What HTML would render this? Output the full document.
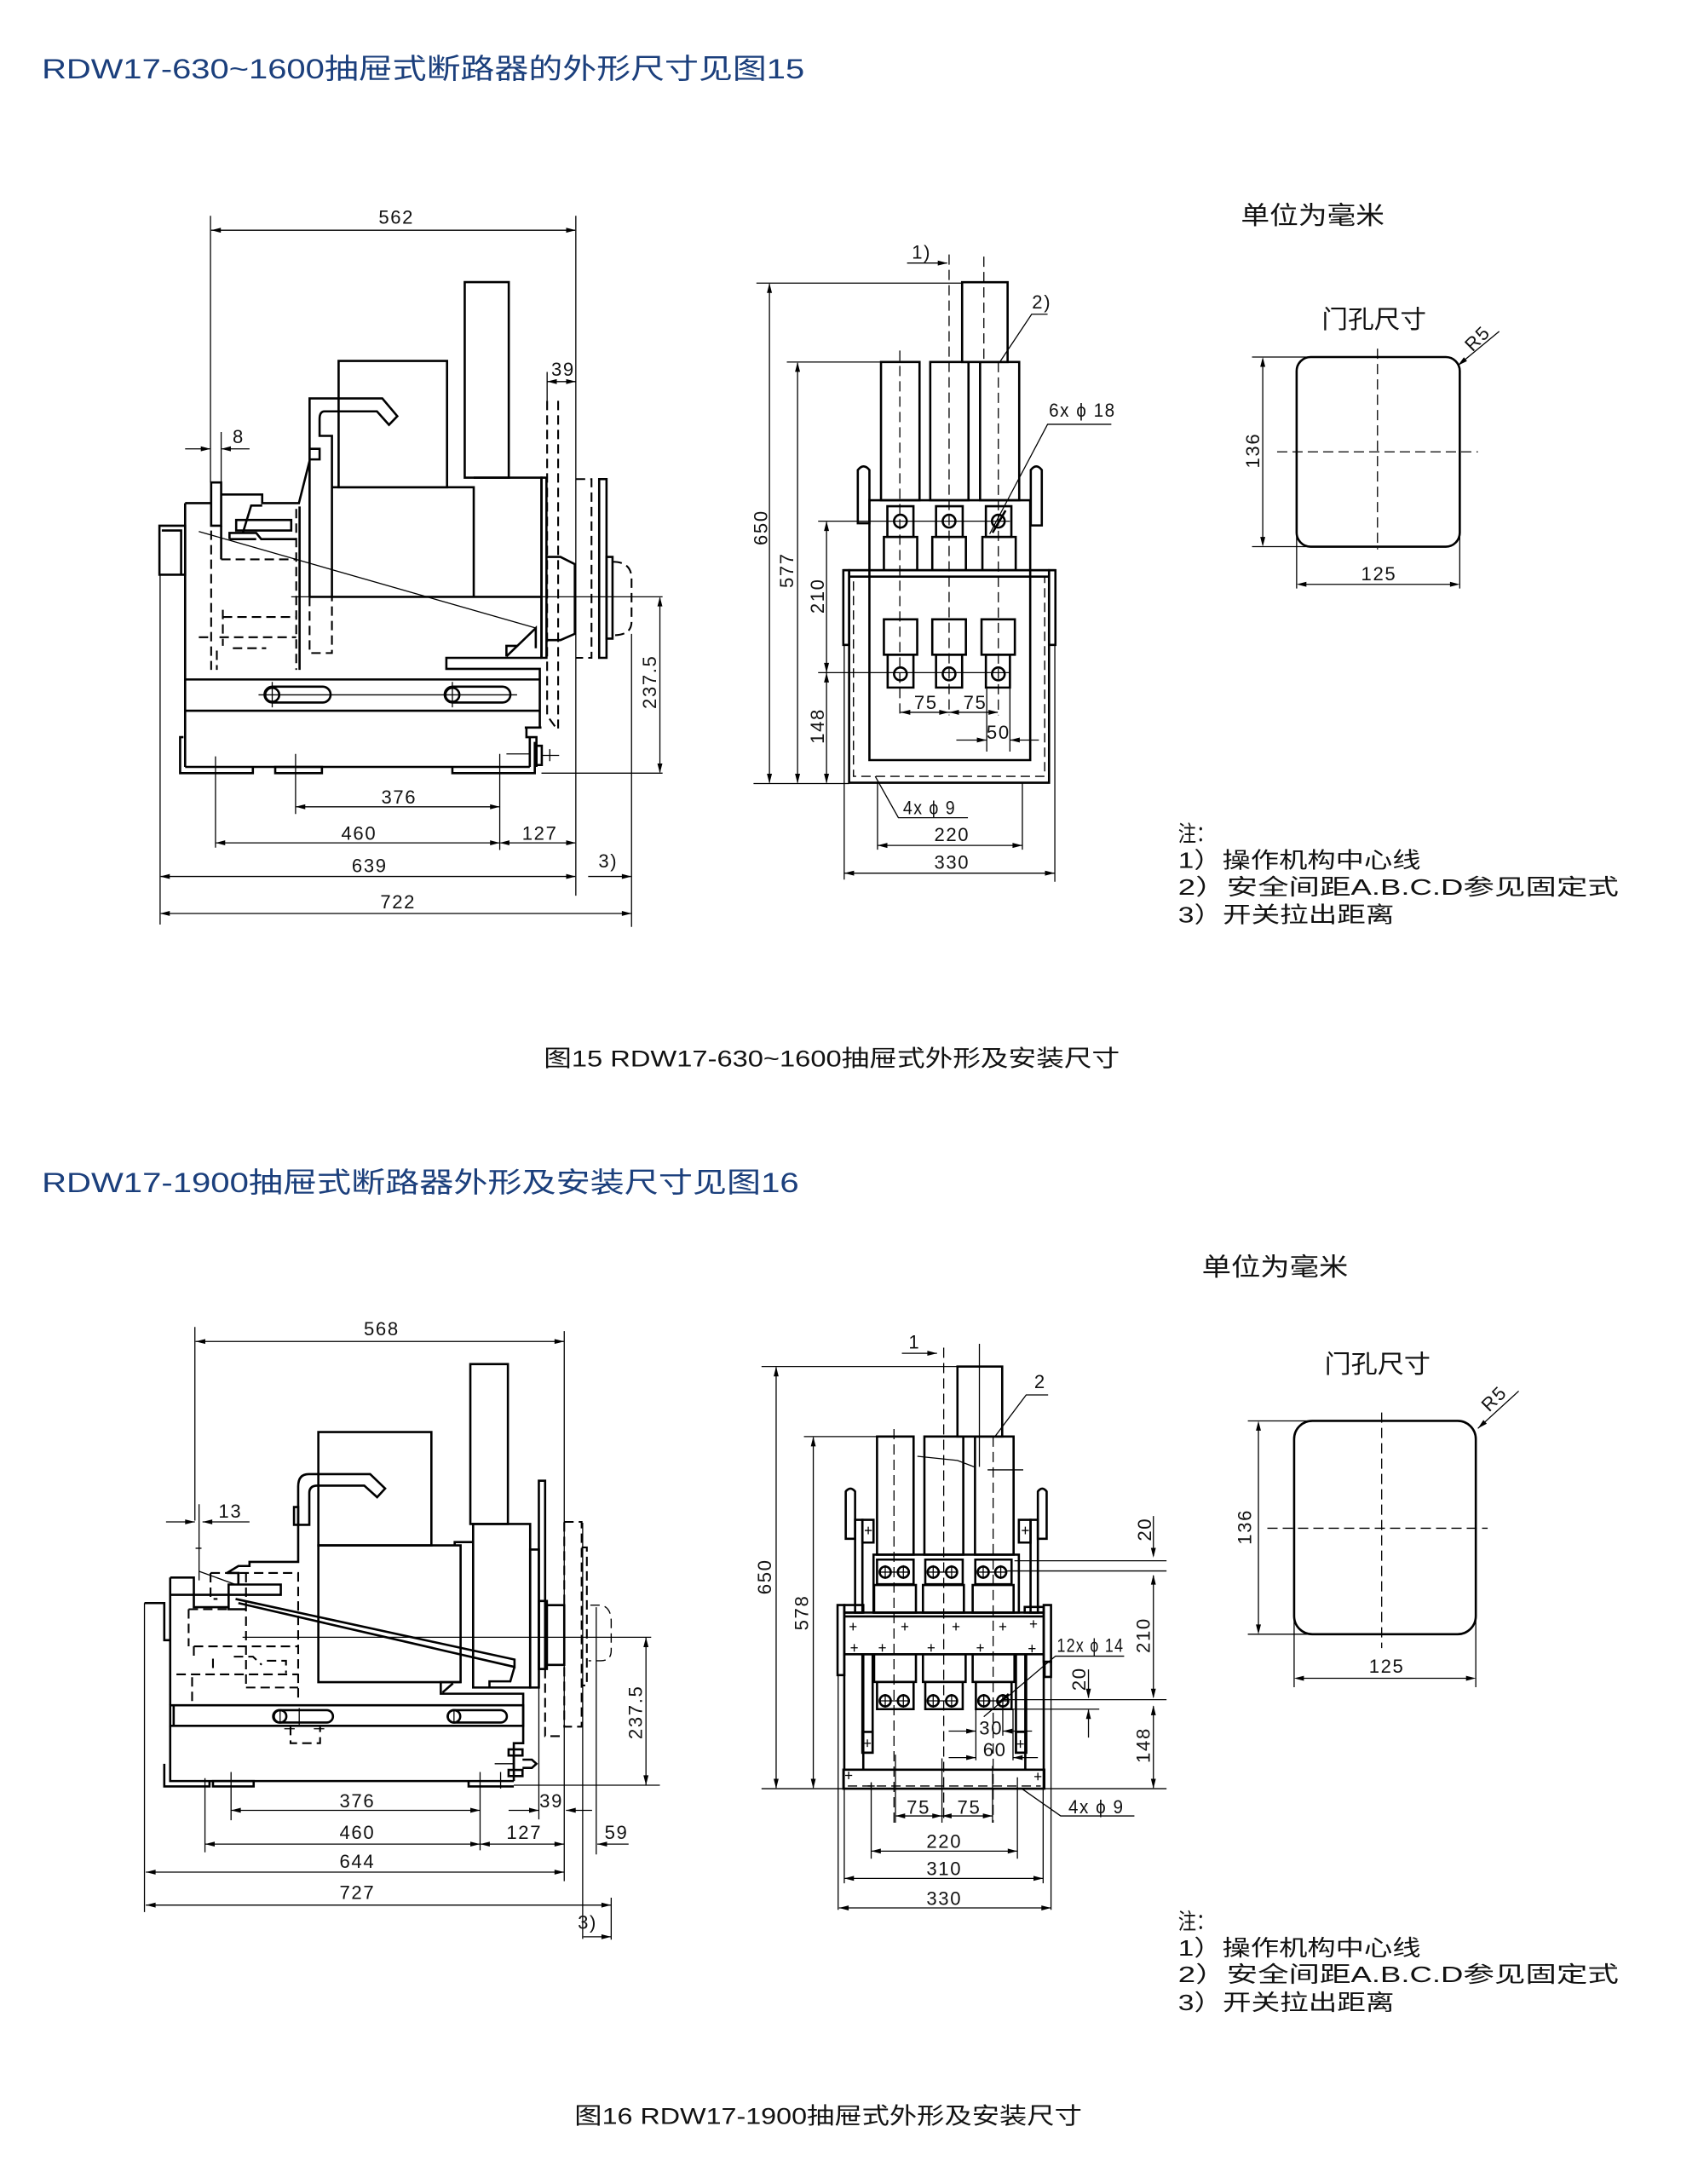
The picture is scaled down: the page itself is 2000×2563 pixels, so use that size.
<!DOCTYPE html>
<html><head><meta charset="utf-8">
<style>
html,body{margin:0;padding:0;background:#fff;}
svg{display:block}
svg *{vector-effect:non-scaling-stroke}
.k{stroke-width:2.6}
.t{stroke-width:1.3}
.ds{stroke-width:2.1;stroke-dasharray:11 6}
.dt{stroke-width:1.3;stroke-dasharray:12 6}
.a{fill:#000;stroke:none}
.n{font-family:"Liberation Sans","Noto Sans CJK SC",sans-serif;font-size:13.5px;letter-spacing:1px;fill:#111;text-anchor:middle;dominant-baseline:central}
.c{font-family:"Liberation Sans","Noto Sans CJK SC",sans-serif;fill:#111;dominant-baseline:central}
.ti{font-family:"Liberation Sans","Noto Sans CJK SC",sans-serif;fill:#1b3f7c;dominant-baseline:central}
</style></head><body>
<svg width="2000" height="2563" viewBox="0 0 1219 1562" xmlns="http://www.w3.org/2000/svg">
<rect x="0" y="0" width="1219" height="1562" fill="#fff"/>

<!-- Captions (measured) -->
<text class="c" x="389" y="757" font-size="16.5" textLength="412" lengthAdjust="spacingAndGlyphs">图15 RDW17-630~1600抽屉式外形及安装尺寸</text>
<text class="c" x="411" y="1513.3" font-size="16.5" textLength="363" lengthAdjust="spacingAndGlyphs">图16 RDW17-1900抽屉式外形及安装尺寸</text>

<g transform="scale(0.9974 0.9973)">
<!-- Titles -->
<text class="ti" x="30" y="49" font-size="20" textLength="547" lengthAdjust="spacingAndGlyphs">RDW17-630~1600抽屉式断路器的外形尺寸见图15</text>
<text class="ti" x="30" y="848" font-size="20" textLength="543" lengthAdjust="spacingAndGlyphs">RDW17-1900抽屉式断路器外形及安装尺寸见图16</text>

<!-- Units / door hole labels -->
<text class="c" x="890" y="155" font-size="18" textLength="103" lengthAdjust="spacingAndGlyphs">单位为毫米</text>
<text class="c" x="948" y="229.5" font-size="18" textLength="75" lengthAdjust="spacingAndGlyphs">门孔尺寸</text>
<text class="c" x="862" y="909" font-size="18" textLength="105" lengthAdjust="spacingAndGlyphs">单位为毫米</text>
<text class="c" x="950" y="978.7" font-size="18" textLength="76" lengthAdjust="spacingAndGlyphs">门孔尺寸</text>

<!-- Notes -->
<text class="c" x="845" y="598" font-size="16" textLength="26" lengthAdjust="spacingAndGlyphs">注：</text>
<text class="c" x="845" y="617" font-size="16" textLength="174" lengthAdjust="spacingAndGlyphs">1）操作机构中心线</text>
<text class="c" x="845" y="636" font-size="16" textLength="316" lengthAdjust="spacingAndGlyphs">2）安全间距A.B.C.D参见固定式</text>
<text class="c" x="845" y="656" font-size="16" textLength="155" lengthAdjust="spacingAndGlyphs">3）开关拉出距离</text>
<text class="c" x="845" y="1378" font-size="16" textLength="26" lengthAdjust="spacingAndGlyphs">注：</text>
<text class="c" x="845" y="1397" font-size="16" textLength="174" lengthAdjust="spacingAndGlyphs">1）操作机构中心线</text>
<text class="c" x="845" y="1416" font-size="16" textLength="316" lengthAdjust="spacingAndGlyphs">2）安全间距A.B.C.D参见固定式</text>
<text class="c" x="845" y="1436" font-size="16" textLength="155" lengthAdjust="spacingAndGlyphs">3）开关拉出距离</text>

<!-- Door holes -->
<g fill="none" stroke="#000">
<rect class="k" x="930" y="256" width="117" height="136" rx="10" ry="10"/>
<path class="dt" d="M988,250 V394 M916,324 H1060"/>
<path class="t" d="M898,256 H942 M898,392 H942 M905.7,258 V390 M930,382 V422 M1047,382 V422 M932,419 H1045 M1045.7,262 L1075.3,237.6"/>
<rect class="k" x="928.2" y="1019" width="130.3" height="153" rx="13" ry="13"/>
<path class="dt" d="M991,1013 V1182 M909,1096 H1067"/>
<path class="t" d="M895,1019 H943 M895,1172 H943 M902.6,1021 V1170 M928.2,1160 V1210 M1058.5,1160 V1210 M930,1203.6 H1056 M1060,1024.4 L1089.3,997.6"/>
</g>
<path class="a" d="M905.7,256 l-1.8,7 h3.6z M905.7,392 l-1.8,-7 h3.6z M930,419 l7,-1.8 v3.6z M1047,419 l-7,-1.8 v3.6z M1045.7,262 L1052.2,258.9 L1049.96,256.16z
M902.6,1019 l-1.8,7 h3.6z M902.6,1172 l-1.8,-7 h3.6z M928.2,1203.6 l7,-1.8 v3.6z M1058.5,1203.6 l-7,-1.8 v3.6z M1060,1024.4 L1066.4,1021 L1063.95,1018.35z"/>
<text class="n" transform="translate(898.7 323) rotate(-90)">136</text>
<text class="n" x="989" y="411.5">125</text>
<text class="n" font-size="12" transform="translate(1059.7 242.6) rotate(-45)">R5</text>
<text class="n" transform="translate(892.8 1095) rotate(-90)">136</text>
<text class="n" x="994.6" y="1195">125</text>
<text class="n" font-size="12" transform="translate(1071.6 1003) rotate(-45)">R5</text>

<!-- ============ FIG 15 LEFT (side view) ============ -->
<g transform="translate(100 139.2) scale(0.2393 0.3446)" fill="none" stroke="#000">
<g class="k">
<rect x="975" y="183" width="132" height="407"/>
<rect x="597" y="347" width="325" height="263"/>
<path d="M510,838 V425 H728 L773,462 L748,480 L712,452 H555 Q540,452 540,468 V503 H577 V838"/>
<path d="M510,530 H540 V552 H510"/>
<path d="M577,610 H1002 V838"/>
<path d="M1002,590 H1205 V965"/>
<rect x="1205" y="590" width="15" height="375"/>
<path d="M510,838 H1205"/>
<path d="M1205,965 H920 V988 H1200 V1110"/>
<path d="M1100,962 V940 H1135 M1100,962 L1188,903 V945"/>
<path d="M137,1010 H1200 M137,1075 H1200"/>
<rect x="375" y="1025" width="198" height="33" rx="24" ry="16.5"/>
<rect x="915" y="1025" width="197" height="33" rx="24" ry="16.5"/>
<ellipse cx="398" cy="1042" rx="21" ry="14.5"/>
<ellipse cx="938" cy="1042" rx="21" ry="14.5"/>
<path d="M137,643 V1192 M137,643 H215 M245,625 H368 V643 H478 L510,555"/>
<path d="M480,650 V990"/>
<rect x="215" y="600" width="30" height="90"/>
<rect x="290" y="678" width="165" height="22"/>
<path d="M270,718 V705 H350 L365,718 H470 M270,718 H350 M310,705 L335,648 H368"/>
<path d="M245,690 V760"/>
<rect x="60" y="690" width="77" height="102"/>
<path d="M67,700 H125 V792"/>
<path d="M132,1130 H122 V1205 H340 V1192"/>
<path d="M137,1192 H1170"/>
<rect x="407" y="1192" width="140" height="13"/>
<path d="M938,1192 V1205 H1185 V1140"/>
<path d="M1155,1110 H1205 M1160,1110 V1130 H1190 V1192 M1170,1130 V1192"/>
<rect x="1190" y="1148" width="16" height="40"/>
<path d="M1222,755 H1262 L1305,770 V915 L1262,928 H1222"/>
<rect x="1378" y="593" width="22" height="372"/>
<rect x="1400" y="755" width="18" height="170"/>
</g>
<g class="ds">
<path d="M510,838 V955 H577 V838"/>
<path d="M215,700 V990 M470,655 V990 M245,760 H470 M250,880 H470 M178,922 H215 M240,922 H470 M250,865 V940 M232,950 V990 M280,945 H380"/>
<path d="M1222,430 V1085 L1250,1112 M1255,430 V1112"/>
<path d="M1308,593 H1355 V965 H1308"/>
<path d="M1418,765 Q1475,765 1475,800 V890 Q1475,918 1420,918"/>
</g>
<g class="t">
<path d="M178,702 L1188,903"/>
<path d="M455,838 H1568 M1205,1205 H1568"/>
<path d="M357,1042 H1132 M398,1015 V1068 M938,1015 V1068"/>
<path d="M213,45 V600 M1308,45 V1460 M245,495 V600 M1222,370 V430 M468,1165 V1290 M1080,1165 V1365 M228,1170 V1360 M62,792 V1520 M1475,915 V1525"/>
<path d="M215,75 H1306 M137,530 H211 M247,530 H330 M1222,390 H1308 M1560,840 V1203 M470,1275 H1078 M230,1350 H1078 M1082,1350 H1306 M64,1420 H1306 M1345,1420 H1473 M64,1497 H1473"/>
<path d="M1206,1168 H1258 M1230,1155 V1180 M1100,1165 H1170"/>
</g>
<path class="a" d="M215,75 l29,-5.2 v10.4z M1308,75 l-29,-5.2 v10.4z M213,530 l-29,-5.2 v10.4z M245,530 l29,-5.2 v10.4z M1222,390 l29,-5.2 v10.4z M1308,390 l-29,-5.2 v10.4z M1560,838 l-7.5,20 h15z M1560,1205 l-7.5,-20 h15z M468,1275 l29,-5.2 v10.4z M1080,1275 l-29,-5.2 v10.4z M228,1350 l29,-5.2 v10.4z M1080,1350 l-29,-5.2 v10.4z M1080,1350 l29,-5.2 v10.4z M1308,1350 l-29,-5.2 v10.4z M62,1420 l29,-5.2 v10.4z M1308,1420 l-29,-5.2 v10.4z M1475,1420 l-29,-5.2 v10.4z M62,1497 l29,-5.2 v10.4z M1475,1497 l-29,-5.2 v10.4z"/>
</g>
<text class="n" x="284.3" y="155.7">562</text>
<text class="n" x="171.1" y="313.2">8</text>
<text class="n" x="403.9" y="265">39</text>
<text class="n" transform="translate(466.1 489) rotate(-90)">237.5</text>
<text class="n" x="286.2" y="571.7">376</text>
<text class="n" x="257.5" y="597.5">460</text>
<text class="n" x="387.2" y="597.5">127</text>
<text class="n" x="265.1" y="621">639</text>
<text class="n" x="436.2" y="617.5">3)</text>
<text class="n" x="285.5" y="646.8">722</text>

<!-- ============ FIG 15 MIDDLE (front view) ============ -->
<g transform="translate(536.3 164.1) scale(0.2078 0.306)" fill="none" stroke="#000">
<g class="k">
<rect x="740" y="125" width="157" height="187"/>
<rect x="460" y="312" width="133" height="324"/>
<rect x="630" y="312" width="132" height="324"/>
<rect x="802" y="312" width="135" height="324"/>
<rect x="420" y="636" width="555" height="609"/>
<rect x="350" y="800" width="690" height="498"/>
<path d="M330,800 H1062 M350,815 H1040"/>
<rect x="330" y="800" width="20" height="175"/>
<rect x="1040" y="800" width="22" height="175"/>
<rect x="482" y="650" width="90" height="72"/><rect x="470" y="722" width="115" height="78"/>
<rect x="650" y="650" width="92" height="72"/><rect x="637" y="722" width="116" height="78"/>
<rect x="822" y="650" width="88" height="72"/><rect x="810" y="722" width="115" height="78"/>
<ellipse cx="527" cy="685" rx="22" ry="15"/><ellipse cx="695" cy="685" rx="22" ry="15"/><ellipse cx="865" cy="685" rx="22" ry="15"/>
<rect x="470" y="915" width="115" height="83"/><rect x="483" y="998" width="89" height="77"/>
<rect x="637" y="915" width="116" height="83"/><rect x="650" y="998" width="90" height="77"/>
<rect x="807" y="915" width="115" height="83"/><rect x="822" y="998" width="83" height="77"/>
<ellipse cx="527" cy="1043" rx="22" ry="15"/><ellipse cx="695" cy="1043" rx="22" ry="15"/><ellipse cx="865" cy="1043" rx="22" ry="15"/>
<path d="M380,690 V565 Q400,548 420,565 V690 Z"/>
<path d="M977,695 V565 Q996,548 1015,565 V695 Z"/>
<path d="M845,712 L890,660"/>
</g>
<rect class="ds" x="365" y="815" width="660" height="468" style="stroke-width:1.4"/>
<path class="dt" d="M695,60 V1140 M815,65 V312 M525,285 V1140 M865,312 V1140"/>
<g class="t">
<path d="M75,129 V1298 M30,127 H740 M20,1300 H350"/>
<path d="M172,314 V1298 M135,312 H460"/>
<path d="M272,687 V1298 M243,685 H905 M243,1040 H905"/>
<path d="M550,80 H688"/>
<path d="M1035,200 H980 L870,312"/>
<path d="M1255,458 H1035 L835,715"/>
<path d="M527,1133 H863"/>
<path d="M825,1075 V1225 M905,1075 V1225 M720,1198 H825 M1005,1198 H905"/>
<path d="M760,1380 H520 L440,1283"/>
<path d="M448,1445 H948 M448,1300 V1455 M948,1300 V1455"/>
<path d="M333,1510 H1060 M333,975 V1525 M1060,975 V1530"/>
</g>
<path class="a" d="M75,127 l-8.7,23 h17.4z M75,1300 l-8.7,-23 h17.4z M172,312 l-8.7,23 h17.4z M172,1300 l-8.7,-23 h17.4z M272,685 l-8.7,23 h17.4z M272,1040 l-8.7,-23 h17.4z M272,1040 l-8.7,23 h17.4z M272,1300 l-8.7,-23 h17.4z M690,80 l-34,-5.9 v11.8z M527,1133 l34,-5.9 v11.8z M695,1133 l-34,-5.9 v11.8z M695,1133 l34,-5.9 v11.8z M865,1133 l-34,-5.9 v11.8z M825,1198 l-34,-5.9 v11.8z M905,1198 l34,-5.9 v11.8z M448,1445 l34,-5.9 v11.8z M948,1445 l-34,-5.9 v11.8z M333,1510 l34,-5.9 v11.8z M1060,1510 l-34,-5.9 v11.8z"/>
</g>
<text class="n" x="661" y="180.9">1)</text>
<text class="n" x="747.2" y="216.7">2)</text>
<text class="n" x="776.3" y="294.2" textLength="48" lengthAdjust="spacingAndGlyphs">6x ϕ 18</text>
<text class="n" transform="translate(545.7 378.3) rotate(-90)">650</text>
<text class="n" transform="translate(564.4 408.9) rotate(-90)">577</text>
<text class="n" transform="translate(586.2 427.3) rotate(-90)">210</text>
<text class="n" transform="translate(586.2 520.6) rotate(-90)">148</text>
<text class="n" x="664.1" y="503.8">75</text>
<text class="n" x="699.4" y="503.8">75</text>
<text class="n" x="716.1" y="525.2">50</text>
<text class="n" x="666.7" y="579.4" textLength="38" lengthAdjust="spacingAndGlyphs">4x ϕ 9</text>
<text class="n" x="682.8" y="598.6">220</text>
<text class="n" x="682.8" y="618.5">330</text>
</g>

<!-- ============ FIG 16 LEFT (side view) ============ -->
<g transform="translate(91.4 927) scale(0.2488 0.2947)" fill="none" stroke="#000">
<g class="k">
<rect x="985" y="165" width="108" height="388"/>
<rect x="548" y="330" width="325" height="275"/>
<path d="M490,555 V462 Q490,432 520,432 H697 L740,467 L717,488 L680,460 H545 Q522,460 522,478 V555 Z"/>
<rect x="478" y="512" width="12" height="43"/>
<rect x="548" y="605" width="409" height="332"/>
<path d="M940,605 V597 H993"/>
<path d="M993,553 H1157 V950 H993 Z"/>
<path d="M1040,950 V935 H1100 L1112,900"/>
<rect x="1157" y="615" width="25" height="335"/>
<rect x="1182" y="448" width="18" height="457"/>
<rect x="1182" y="740" width="23" height="165"/>
<rect x="1205" y="750" width="50" height="145"/>
<path d="M957,937 H900 V965 H1137 V1085 H1110 V1177"/>
<path d="M905,962 L935,940"/>
<rect x="122" y="993" width="1015" height="50"/>
<path d="M132,993 V1043"/>
<rect x="418" y="1005" width="172" height="30" rx="18" ry="15"/>
<rect x="920" y="1005" width="170" height="30" rx="18" ry="15"/>
<ellipse cx="438" cy="1020" rx="18" ry="15"/>
<ellipse cx="938" cy="1020" rx="18" ry="15"/>
<path d="M122,683 V993 M122,1043 V1177 H1110"/>
<path d="M105,1135 V1190 H235 V1177"/>
<rect x="245" y="1177" width="117" height="13"/>
<path d="M980,1177 V1190 H1110"/>
<path d="M122,683 H190 V755 H290 M122,725 H290"/>
<rect x="290" y="700" width="150" height="25"/>
<path d="M290,725 V760 H340"/>
<path d="M285,672 L318,655 H350 V645 H490 V555 M285,672 H318 V700"/>
<path d="M48,745 H105 V835 H122"/>
<rect x="1095" y="1100" width="40" height="15"/>
<rect x="1095" y="1150" width="40" height="15"/>
<path d="M1110,1115 V1150 M1135,1125 H1162 L1175,1135 L1162,1145 H1135"/>
<path d="M310,735 L1112,882 V900 L318,745"/>
</g>
<g class="ds">
<path d="M1200,905 V1068 H1250"/>
<path d="M1255,548 H1305 V1045 H1255 Z"/>
<path d="M1305,610 H1320 V945 H1305"/>
<path d="M1330,750 H1360 Q1390,755 1390,790 V860 Q1390,885 1360,885 H1325" style="stroke-width:1.4"/>
<path d="M238,672 H490 V985 M238,672 V735 H258 M340,672 V950 M175,760 V850 M175,760 H290 M190,850 H490 M140,918 H490 M340,950 H490"/>
<path d="M190,850 V880 M245,880 V915 M305,875 H360 L385,895 M400,885 H455 V915"/>
<path d="M468,1043 V1085 H553 V1043 M185,925 V990"/>
</g>
<g class="t">
<path d="M330,828 H1505 M1110,1187 H1530"/>
<path d="M438,1005 V1035 M938,1005 V1035 M493,1000 V1040"/>
<path d="M205,668 L310,700"/>
<path d="M195,110 H1255 M193,75 V545 M1255,85 V1420"/>
<path d="M110,548 H193 M215,548 H350 M205,505 V690 M195,612 H212"/>
<path d="M1490,828 V1187"/>
<path d="M297,1248 H1013 M297,1155 V1272 M1013,1155 V1345"/>
<path d="M1095,1248 H1182 M1260,1248 H1335 M1182,950 V1270"/>
<path d="M222,1330 H1013 M222,1170 V1350 M1013,1330 H1255"/>
<path d="M1350,1330 H1440 M1347,755 V1355"/>
<path d="M52,1398 H1255 M52,1478 H1390 M48,745 V1495"/>
<path d="M1310,1555 H1390 M1308,550 V1560 M1390,1460 V1562"/>
<path d="M1055,1135 H1110 M1072,1155 V1195 M450,1050 H480 M535,1050 H565"/>
</g>
<path class="a" d="M195,110 l28,-6 v12z M1255,110 l-28,-6 v12z M193,548 l-28,-6 v12z M215,548 l28,-6 v12z M1490,828 l-7.3,24 h14.6z M1490,1187 l-7.3,-24 h14.6z M297,1248 l28,-6 v12z M1013,1248 l-28,-6 v12z M1182,1248 l-28,-6 v12z M1260,1248 l28,-6 v12z M222,1330 l28,-6 v12z M1013,1330 l-28,-6 v12z M1013,1330 l28,-6 v12z M1255,1330 l-28,-6 v12z M1350,1330 l28,-6 v12z M52,1398 l28,-6 v12z M1255,1398 l-28,-6 v12z M52,1478 l28,-6 v12z M1390,1478 l-28,-6 v12z M1390,1555 l-28,-6 v12z"/>
</g>
<text class="n" x="273" y="950.6">568</text>
<text class="n" x="164.8" y="1080.8">13</text>
<text class="n" transform="translate(454.6 1224.6) rotate(-90)">237.5</text>
<text class="n" x="255.6" y="1288">376</text>
<text class="n" x="394.4" y="1288">39</text>
<text class="n" x="255.6" y="1310.7">460</text>
<text class="n" x="375" y="1310.7">127</text>
<text class="n" x="441" y="1310.7">59</text>
<text class="n" x="255.6" y="1331.3">644</text>
<text class="n" x="255.6" y="1353.7">727</text>
<text class="n" x="420.3" y="1374.9">3)</text>

<!-- ============ FIG 16 MIDDLE (front view) ============ -->
<g transform="translate(524.9 940.8) scale(0.2092 0.2708)" fill="none" stroke="#000">
<g class="k">
<rect x="765" y="135" width="153" height="185"/>
<rect x="490" y="320" width="125" height="312"/>
<rect x="652" y="320" width="133" height="312"/>
<rect x="825" y="320" width="132" height="312"/>
<rect x="478" y="632" width="497" height="153"/>
<rect x="490" y="645" width="125" height="65"/>
<rect x="655" y="645" width="128" height="65"/>
<rect x="826" y="645" width="124" height="65"/>
<rect x="480" y="712" width="143" height="73"/>
<rect x="647" y="712" width="140" height="73"/>
<rect x="817" y="712" width="140" height="73"/>
<ellipse cx="518" cy="678" rx="19" ry="14.7"/><ellipse cx="580" cy="678" rx="19" ry="14.7"/>
<ellipse cx="682" cy="678" rx="19" ry="14.7"/><ellipse cx="745" cy="678" rx="19" ry="14.7"/>
<ellipse cx="853" cy="678" rx="19" ry="14.7"/><ellipse cx="913" cy="678" rx="19" ry="14.7"/>
<path d="M383,590 V465 Q399,450 415,465 V590 Z"/>
<path d="M1040,590 V465 Q1055,450 1070,465 V590 Z"/>
<rect x="415" y="540" width="25" height="245"/>
<rect x="1015" y="540" width="25" height="245"/>
<rect x="440" y="540" width="38" height="60"/>
<rect x="975" y="540" width="40" height="60"/>
<rect x="378" y="785" width="682" height="110"/>
<path d="M378,795 H1060"/>
<rect x="355" y="765" width="23" height="185"/>
<rect x="378" y="765" width="65" height="20"/>
<rect x="995" y="770" width="65" height="15"/>
<rect x="1060" y="765" width="25" height="150"/>
<rect x="1063" y="915" width="22" height="40"/>
<rect x="480" y="895" width="143" height="73"/>
<rect x="647" y="895" width="146" height="73"/>
<rect x="817" y="895" width="143" height="73"/>
<rect x="490" y="968" width="125" height="72"/>
<rect x="655" y="968" width="128" height="72"/>
<rect x="828" y="968" width="122" height="72"/>
<ellipse cx="518" cy="1018" rx="19" ry="14.7"/><ellipse cx="580" cy="1018" rx="19" ry="14.7"/>
<ellipse cx="682" cy="1018" rx="19" ry="14.7"/><ellipse cx="745" cy="1018" rx="19" ry="14.7"/>
<ellipse cx="855" cy="1018" rx="19" ry="14.7"/><ellipse cx="920" cy="1018" rx="19" ry="14.7"/>
<path d="M378,895 V1200 M1060,895 V1200 M443,895 V1200 M997,895 V1200"/>
<rect x="440" y="895" width="35" height="260"/>
<rect x="440" y="1100" width="35" height="55"/>
<rect x="965" y="895" width="35" height="260"/>
<rect x="965" y="1100" width="35" height="55"/>
<rect x="375" y="1200" width="687" height="50"/>
<path d="M905,1025 L940,1000"/>
</g>
<path class="ds" style="stroke-width:1.4" d="M390,1243 H1050"/>
<path class="dt" d="M718,85 V1340 M548,300 V1340 M887,320 V1340"/>
<g class="t">
<path d="M500,678 H600 M665,678 H765 M838,678 H930 M500,1018 H600 M665,1018 H765 M838,1018 H940"/>
<path d="M518,660 v36 M580,660 v36 M682,660 v36 M745,660 v36 M853,660 v36 M913,660 v36 M518,1000 v36 M580,1000 v36 M682,1000 v36 M745,1000 v36 M855,1000 v36 M920,1000 v36"/>
<path d="M448,568 h24 M460,558 v20 M985,568 h24 M997,558 v20 M396,822 h24 M408,812 v20 M573,822 h24 M585,812 v20 M748,822 h24 M760,812 v20 M908,822 h24 M920,812 v20 M1013,815 h24 M1025,805 v20 M400,878 h24 M412,868 v20 M496,878 h24 M508,868 v20 M663,878 h24 M675,868 v20 M831,878 h24 M843,868 v20 M1008,880 h24 M1020,870 v20 M445,1130 h24 M457,1120 v20 M968,1132 h24 M980,1122 v20 M381,1215 h24 M393,1205 v20 M1028,1218 h24 M1040,1208 v20 M458,1243 h24 M470,1233 v20"/>
<path d="M840,75 V400"/>
<path d="M145,137 V1248 M95,135 H765 M95,1250 H1480"/>
<path d="M272,322 V1248 M240,320 H490"/>
<path d="M575,100 H695"/>
<path d="M1075,210 H1000 L895,318"/>
<path d="M628,372 L765,383 L822,400 M868,408 H990"/>
<path d="M1435,530 V635 M960,648 H1480 M930,675 H1480"/>
<path d="M1435,687 V1008 M925,1015 H1480 M1435,1032 V1248"/>
<path d="M1335,900 H1100 L855,1060"/>
<path d="M1213,935 V1010 M1213,1115 V1042 M935,1040 H1250"/>
<path d="M735,1098 H828 M1020,1098 H920 M828,1030 V1175 M920,1030 V1110"/>
<path d="M735,1168 H828 M1040,1168 H955 M955,1040 V1175"/>
<path d="M553,1322 H885 M553,1160 V1340 M712,1170 V1340 M885,1190 V1340"/>
<path d="M1370,1322 H1118 L985,1250"/>
<path d="M470,1415 H970 M470,1235 V1435 M970,1220 V1435"/>
<path d="M378,1487 H1058 M378,1200 V1500 M1058,1200 V1500"/>
<path d="M360,1565 H1085 M357,950 V1570 M1085,955 V1570"/>
</g>
<path class="a" d="M145,135 l-8.5,26 h17z M145,1250 l-8.5,-26 h17z M272,320 l-8.5,26 h17z M272,1250 l-8.5,-26 h17z M695,100 l-33,-6.6 v13.2z M1435,640 l-8.5,-26 h17z M1435,685 l-8.5,26 h17z M1435,1012 l-8.5,-26 h17z M1435,1030 l-8.5,26 h17z M1435,1250 l-8.5,-26 h17z M1213,1012 l-8.5,-26 h17z M1213,1040 l-8.5,26 h17z M828,1098 l-33,-6.6 v13.2z M920,1098 l33,-6.6 v13.2z M828,1168 l-33,-6.6 v13.2z M955,1168 l33,-6.6 v13.2z M553,1322 l33,-6.6 v13.2z M712,1322 l-33,-6.6 v13.2z M712,1322 l33,-6.6 v13.2z M885,1322 l-33,-6.6 v13.2z M470,1415 l33,-6.6 v13.2z M970,1415 l-33,-6.6 v13.2z M378,1487 l33,-6.6 v13.2z M1058,1487 l-33,-6.6 v13.2z M360,1565 l33,-6.6 v13.2z M1085,1565 l-33,-6.6 v13.2z"/>
</g>
<text class="n" x="654.2" y="959.8">1</text>
<text class="n" x="744.1" y="988.2">2</text>
<text class="n" transform="translate(546.9 1127.7) rotate(-90)">650</text>
<text class="n" transform="translate(573.4 1153.4) rotate(-90)">578</text>
<text class="n" transform="translate(818.8 1093.8) rotate(-90)">20</text>
<text class="n" transform="translate(817.8 1169.6) rotate(-90)">210</text>
<text class="n" transform="translate(817.8 1248.2) rotate(-90)">148</text>
<text class="n" x="780.1" y="1176.9" textLength="48" lengthAdjust="spacingAndGlyphs">12x ϕ 14</text>
<text class="n" transform="translate(771.8 1200.8) rotate(-90)">20</text>
<text class="n" x="709" y="1236">30</text>
<text class="n" x="711.7" y="1251.4">60</text>
<text class="n" x="657.1" y="1292.8">75</text>
<text class="n" x="693.3" y="1292.8">75</text>
<text class="n" x="784.3" y="1292.3" textLength="40" lengthAdjust="spacingAndGlyphs">4x ϕ 9</text>
<text class="n" x="675.5" y="1317.2">220</text>
<text class="n" x="675.5" y="1336.7">310</text>
<text class="n" x="675.5" y="1357.8">330</text>
</svg>
</body></html>
